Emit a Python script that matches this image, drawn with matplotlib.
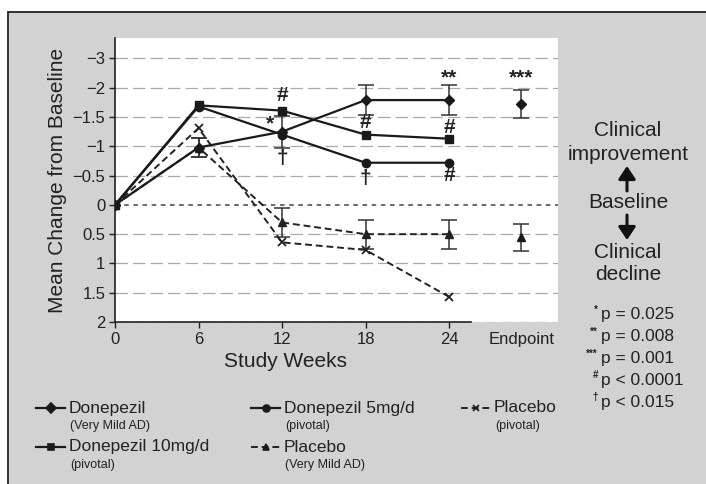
import matplotlib
matplotlib.use("Agg")
import matplotlib.pyplot as plt
from matplotlib.patches import Rectangle

plt.rcParams['font.family'] = ['Liberation Sans', 'DejaVu Sans']

# mean change from baseline (negative = improvement)
weeks = [0, 6, 12, 18, 24]
endpoint_week = 29.2
tick_labels_x = ["0", "6", "12", "18", "24", "Endpoint"]
tick_pos_y = [-2.5, -2, -1.5, -1, -0.5, 0, 0.5, 1, 1.5, 2]
tick_labels_y = ["\u22123", "\u22122", "\u22121.5", "\u22121", "\u22120.5", "0", "0.5", "1", "1.5", "2"]

vm_donepezil = [0, -0.98, -1.25, -1.79, -1.79]
vm_donepezil_err = [0, 0.17, 0.27, 0.25, 0.25]
vm_donepezil_end = -1.73
vm_donepezil_end_err = 0.24

piv_10mg = [0, -1.70, -1.61, -1.20, -1.13]
piv_5mg = [0, -1.68, -1.20, -0.72, -0.72]

vm_placebo = [0, -0.98, 0.30, 0.50, 0.50]
vm_placebo_err = [0, 0.17, 0.24, 0.25, 0.25]
vm_placebo_end = 0.55
vm_placebo_end_err = 0.23

piv_placebo = [0, -1.31, 0.64, 0.77, 1.57]

# significance marks: (week, y, text)
sig_marks = [
    (11.1, -1.38, "*"), (12, -1.86, "#"), (12, -0.80, "\u2020"),
    (18, -1.40, "#"), (18, -0.45, "\u2020"),
    (24, -2.17, "**"), (24, -1.33, "#"), (24, -0.50, "#"),
    (endpoint_week, -2.17, "***"),
]

W, H = 706, 484
fig = plt.figure(figsize=(W / 100, H / 100), dpi=100, facecolor="white")

# page layer in pixel coordinates
bg = fig.add_axes([0, 0, 1, 1], zorder=0)
bg.set_xlim(0, W)
bg.set_ylim(H, 0)
bg.axis("off")
bg.add_patch(Rectangle((8, 12), W, H, facecolor="#d2d2d2", edgecolor="#222222", lw=1.3))

# plot area
x0, x1, y0, y1 = 115, 558, 38, 322
ax = fig.add_axes([x0 / W, (H - y1) / H, (x1 - x0) / W, (y1 - y0) / H], zorder=1)
ax.set_facecolor("white")
ax.set_xlim(0, (x1 - x0) / 13.92)
ax.set_ylim(2, -2.85)

for s in ["top", "right"]:
    ax.spines[s].set_visible(False)
ax.spines["left"].set_color("#222222")
ax.spines["bottom"].set_color("#222222")
ax.spines["left"].set_linewidth(1.2)
ax.spines["bottom"].set_linewidth(1.2)
ax.spines["bottom"].set_bounds(0, 25.6)

ax.set_yticks(tick_pos_y)
ax.set_yticklabels(tick_labels_y, fontsize=12, color="#222222")
ax.set_xticks(weeks + [endpoint_week])
ax.set_xticklabels(tick_labels_x, fontsize=12, color="#222222")
ax.xaxis.get_major_ticks()[-1].tick1line.set_visible(False)
ax.tick_params(axis="both", direction="out", length=4, width=1, color="#222222", pad=3)

for y in tick_pos_y:
    if y != 0:
        ax.axhline(y, color="#ababab", lw=0.9, ls=(0, (10, 4)), zorder=0)
ax.axhline(0, color="#444444", lw=1.1, ls=(0, (3, 3)), zorder=0)

solid = dict(color="#1a1a1a", lw=1.6, zorder=3)
dashed = dict(color="#222222", lw=1.4, ls=(0, (3.5, 2)), zorder=3)
eb = dict(ecolor="#333333", elinewidth=1.1, capsize=6, capthick=1.1, ls="none", zorder=2)

ax.plot(weeks, piv_placebo, marker="x", ms=6, mew=1.3, **dashed)
ax.errorbar(weeks[1:], vm_placebo[1:], yerr=vm_placebo_err[1:], **eb)
ax.plot(weeks, vm_placebo, marker="^", ms=5.5, **dashed)
ax.plot(weeks, piv_5mg, marker="o", ms=6, **solid)
ax.plot(weeks, piv_10mg, marker="s", ms=5.5, **solid)
ax.errorbar(weeks[1:], vm_donepezil[1:], yerr=vm_donepezil_err[1:], **eb)
ax.plot(weeks, vm_donepezil, marker="D", ms=5, **solid)

ax.errorbar([endpoint_week], [vm_donepezil_end], yerr=[vm_donepezil_end_err], **eb)
ax.plot([endpoint_week], [vm_donepezil_end], marker="D", ms=5, color="#1a1a1a", ls="none", zorder=3)
ax.errorbar([endpoint_week], [vm_placebo_end], yerr=[vm_placebo_end_err], **eb)
ax.plot([endpoint_week], [vm_placebo_end], marker="^", ms=5.5, color="#1a1a1a", ls="none", zorder=3)

for wx, wy, s in sig_marks:
    ax.text(wx, wy, s, ha="center", va="center", fontsize=15, fontweight="bold",
            color="#222222", zorder=4)

ax.set_ylabel("Mean Change from Baseline", fontsize=15, color="#222222", labelpad=4)
ax.set_xlabel("Study Weeks", fontsize=15, color="#222222", labelpad=2)
ax.xaxis.set_label_coords((285 - x0) / (x1 - x0), -0.105)

# direction key on the right
txt = dict(ha="center", va="center", fontsize=15, color="#222222")
bg.text(628, 131, "Clinical", **txt)
bg.text(628, 154, "improvement", **txt)
bg.text(628, 203, "Baseline", **txt)
bg.text(628, 252, "Clinical", **txt)
bg.text(628, 275, "decline", **txt)
arrow = dict(arrowstyle="-|>,head_length=0.6,head_width=0.4", color="#111111",
             lw=2.2, mutation_scale=13, shrinkA=0, shrinkB=0)
bg.annotate("", xy=(627, 166), xytext=(627, 191), arrowprops=arrow)
bg.annotate("", xy=(627, 240), xytext=(627, 215), arrowprops=arrow)

# p-value key
p_rows = [("*", "p = 0.025"), ("**", "p = 0.008"), ("***", "p = 0.001"),
          ("#", "p < 0.0001"), ("\u2020", "p < 0.015")]
for i, (sym, label) in enumerate(p_rows):
    yy = 315 + i * 21.8
    bg.text(598, yy - 5, sym, ha="right", va="center", fontsize=7, fontweight="bold", color="#222222")
    bg.text(601, yy, label, ha="left", va="center", fontsize=12.5, color="#222222")

# legend
legend_items = [
    (36, 408, "D", solid, "Donepezil", "(Very Mild AD)"),
    (36, 447, "s", solid, "Donepezil 10mg/d", "(pivotal)"),
    (251, 408, "o", solid, "Donepezil 5mg/d", "(pivotal)"),
    (251, 447, "^", dashed, "Placebo", "(Very Mild AD)"),
    (461, 408, "x", dashed, "Placebo", "(pivotal)"),
]
for lx, ly, mk, style, name, sub in legend_items:
    st = dict(style)
    st.pop("zorder")
    bg.plot([lx, lx + 29], [ly, ly], **st)
    bg.plot([lx + 14.5], [ly], marker=mk, ms=5, mew=1.2, color="#1a1a1a", ls="none")
    bg.text(lx + 33, ly, name, ha="left", va="center", fontsize=12.5, color="#222222")
    bg.text(lx + 34, ly + 18, sub, ha="left", va="center", fontsize=9, color="#222222")

fig.savefig("out.png", dpi=100, facecolor=fig.get_facecolor())
